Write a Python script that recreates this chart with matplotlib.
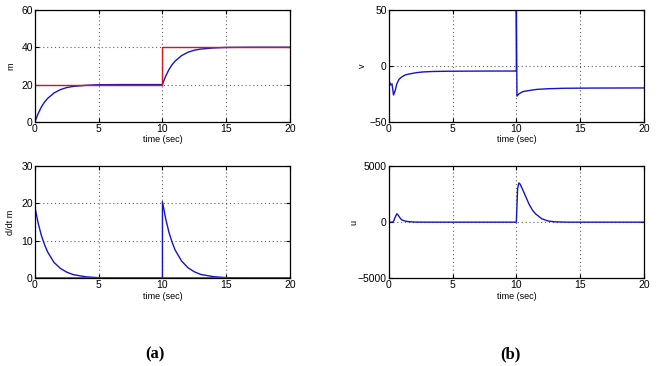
import matplotlib.pyplot as plt
import numpy as np

# m and its reference
t_m = [0, 0.1, 0.25, 0.5, 0.75, 1, 1.5, 2, 2.5, 3, 4, 5, 7, 10,
       10.1, 10.25, 10.5, 10.75, 11, 11.5, 12, 12.5, 13, 14, 15, 17, 20]
m = [0, 1.9, 4.4, 7.9, 10.6, 12.6, 15.5, 17.3, 18.4, 19.0, 19.6, 19.9, 20, 20,
     21.9, 24.4, 27.9, 30.6, 32.6, 35.5, 37.3, 38.4, 39.0, 39.6, 39.9, 40, 40]
t_ref = [0, 10, 10, 20]
m_ref = [20, 20, 40, 40]

# d/dt m
t_dm = [0, 0, 0.25, 0.5, 0.75, 1, 1.5, 2, 2.5, 3, 4, 5, 7, 10,
        10, 10.25, 10.5, 10.75, 11, 11.5, 12, 12.5, 13, 14, 15, 17, 20]
dm = [0, 19, 14.8, 11.5, 9.0, 7.0, 4.2, 2.6, 1.6, 0.95, 0.35, 0.13, 0, 0,
      20.5, 16.0, 12.4, 9.7, 7.5, 4.6, 2.8, 1.7, 1.0, 0.4, 0.14, 0, 0]
t_dref = [0, 20]
dm_ref = [0, 0]

# v
t_v = [0, 0, 0.08, 0.15, 0.25, 0.37, 0.5, 0.63, 0.8, 1.0, 1.3, 1.7, 2.2, 2.7,
       3.5, 4.5, 6, 8, 10, 10, 10.05, 10.2, 10.5, 11, 11.6, 12.5, 13.7, 16, 20]
v = [50, -14, -15, -17, -16, -26, -22, -16, -12, -10, -8, -7, -6, -5.4,
     -5.0, -4.8, -4.7, -4.6, -4.6, 60, -27, -25, -23, -22, -21, -20.4, -20, -19.8, -19.7]

# u
t_u = [0, 0.3, 0.4, 0.5, 0.63, 0.75, 0.9, 1.0, 1.2, 1.5, 2.0, 3, 10,
       10.05, 10.1, 10.2, 10.3, 10.5, 10.75, 11, 11.25, 11.5, 12, 12.5, 13, 14, 20]
u = [0, 0, 150, 450, 750, 600, 350, 220, 120, 50, 10, 0, 0,
     1500, 3000, 3500, 3400, 2900, 2250, 1600, 1100, 750, 300, 100, 30, 0, 0]

blue = '#1414c8'
red = '#d01818'

plt.rcParams['font.family'] = 'Liberation Sans'
fig = plt.figure(figsize=(6.59, 3.66), dpi=100)

def style(ax, ylim, yticks, ylabel, ylx):
    ax.set_xlim(0, 20)
    ax.set_ylim(*ylim)
    ax.set_xticks([0, 5, 10, 15, 20])
    ax.set_yticks(yticks)
    ax.tick_params(direction='in', top=True, right=True, labelsize=7.5, length=3, pad=1.5)
    ax.grid(True, linestyle=(0, (1, 2.5)), color='#606060', linewidth=0.8)
    ax.set_xlabel('time (sec)', fontsize=6.5, labelpad=1)
    ax.set_ylabel(ylabel, fontsize=6.5)
    ax.yaxis.set_label_coords(ylx, 0.5)
    for s in ax.spines.values():
        s.set_linewidth(0.9)

ax1 = fig.add_axes([0.053, 0.667, 0.387, 0.306])
ax1.plot(t_m, m, color=blue, lw=1)
ax1.plot(t_ref, m_ref, color=red, lw=1)
style(ax1, (0, 60), [0, 20, 40, 60], 'm', -0.078)

ax2 = fig.add_axes([0.590, 0.667, 0.387, 0.306])
ax2.plot(t_v, v, color=blue, lw=1)
style(ax2, (-50, 50), [-50, 0, 50], 'v', -0.086)

ax3 = fig.add_axes([0.053, 0.240, 0.387, 0.306])
ax3.plot(t_dm, dm, color=blue, lw=1)
ax3.plot(t_dref, dm_ref, color=red, lw=1.2)
style(ax3, (0, 30), [0, 10, 20, 30], 'd/dt m', -0.078)

ax4 = fig.add_axes([0.590, 0.240, 0.387, 0.306])
ax4.plot(t_u, u, color=blue, lw=1)
style(ax4, (-5000, 5000), [-5000, 0, 5000], 'u', -0.12)

fig.text(0.235, 0.022, '(a)', family='Liberation Serif', weight='bold', fontsize=12, ha='center')
fig.text(0.774, 0.022, '(b)', family='Liberation Serif', weight='bold', fontsize=12, ha='center')

fig.savefig('out.png', dpi=100)
